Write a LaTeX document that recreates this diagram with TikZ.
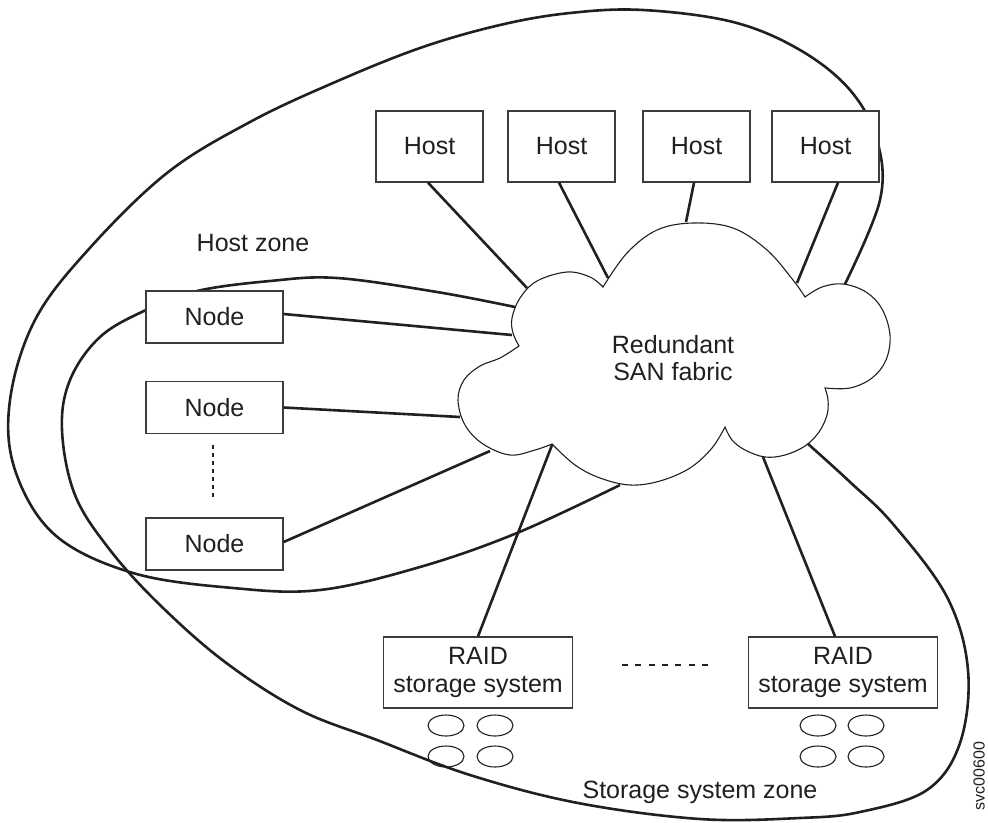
\documentclass[tikz,border=0pt]{standalone}
\usepackage{fontspec}
\setmainfont{Liberation Sans}
\usetikzlibrary{shapes.geometric}
\definecolor{ink}{HTML}{231F20}
\definecolor{edge}{HTML}{3C3C3C}
\begin{document}
\begin{tikzpicture}[x=1pt,y=-1pt,
  box/.style={draw=edge, line width=1.3pt, fill=white, inner sep=0pt,
    font=\fontsize{25}{28}\selectfont, text=ink, align=center},
  hostbox/.style={box, minimum width=107pt, minimum height=71pt},
  nodebox/.style={box, minimum width=137pt, minimum height=52pt},
  raidbox/.style={box, minimum width=189pt, minimum height=71pt},
  link/.style={draw=ink, line width=2.6pt},
  zone/.style={draw=ink, line width=2.6pt},
  cloudline/.style={draw=ink, line width=1.1pt},
  disk/.style={draw=ink, line width=1.1pt, ellipse, inner sep=0pt,
    minimum width=36pt, minimum height=21pt},
  dotline/.style={draw=ink, line width=2.6pt, dash pattern=on 6pt off 7.3pt},
  lbl/.style={font=\fontsize{25}{28}\selectfont, text=ink, inner sep=0pt}
]
\useasboundingbox (0,0) rectangle (988,822);

% Host zone
\draw[zone] plot[smooth, tension=0.6] coordinates {
  (620,485) (517,533) (420,567) (320,590) (233,588) (133,573) (55,535)
  (15,470) (10,400) (35,320) (88,250) (167,173) (250,122) (333,83)
  (420,48) (500,25) (570,13) (643,10) (733,22) (800,50) (850,90)
  (877,140) (880,200) (845,284)};

% Storage system zone
\draw[zone] plot[smooth, tension=0.6] coordinates {
  (515,307) (437,292) (337,278) (270,281) (197,291) (146,310) (100,337)
  (70,380) (62,430) (75,495) (110,550) (160,605) (225,662) (300,710)
  (377,740) (470,775) (578,803) (700,819) (800,818) (860,812) (927,790)
  (960,743) (968,670) (947,597) (893,524) (850,482) (807,443)};

% Cloud
\draw[cloudline, fill=white]
  plot[smooth, tension=0.6] coordinates {(519,346) (513,333) (512,318) (520,298) (537,281) (567,272) (590,277) (603,287)}
  -- plot[smooth, tension=0.6] coordinates {(603,287) (627,253) (657,230) (693,223) (733,228) (767,250) (793,280) (805,297)}
  -- plot[smooth, tension=0.6] coordinates {(805,297) (822,287) (843,284) (866,292) (882,309) (890,335) (886,360) (872,378) (850,388) (825,388)}
  -- plot[smooth, tension=0.6] coordinates {(825,388) (828,400) (827,415) (819,432) (805,446) (785,455) (765,457) (745,450) (732,440) (725,427)}
  -- plot[smooth, tension=0.6] coordinates {(725,427) (712,448) (690,468) (660,481) (630,485) (600,478) (575,465) (552,444)}
  -- plot[smooth, tension=0.6] coordinates {(552,444) (535,450) (510,455) (483,444) (465,425) (458,400) (464,380) (480,366) (500,358) (519,346)}
  -- cycle;
\node[lbl, align=center, font=\fontsize{25}{27}\selectfont] (fabric) at (673,358) {Redundant\\SAN fabric};

% Cloud attachment points
\coordinate (ch1) at (527,288);
\coordinate (ch2) at (608,278);
\coordinate (ch3) at (686,222);
\coordinate (ch4) at (797,283);
\coordinate (cn1) at (512,335);
\coordinate (cn2) at (460,417);
\coordinate (cn3) at (490,451);
\coordinate (cr1) at (552,445);
\coordinate (cr2) at (763,457);

% Boxes
\node[hostbox] (h1) at (429.5,146.5) {Host};
\node[hostbox] (h2) at (561.5,146.5) {Host};
\node[hostbox] (h3) at (696.5,146.5) {Host};
\node[hostbox] (h4) at (825.5,146.5) {Host};
\node[nodebox] (n1) at (214.5,317) {Node};
\node[nodebox] (n2) at (214.5,407.5) {Node};
\node[nodebox] (n3) at (214.5,544) {Node};
\node[raidbox] (r1) at (478,672.5) {RAID\\storage system};
\node[raidbox] (r2) at (843,672.5) {RAID\\storage system};

% Connectors
\draw[link] ([xshift=-1.5pt]h1.south) -- (ch1);
\draw[link] ([xshift=-2.5pt]h2.south) -- (ch2);
\draw[link] ([xshift=-2.5pt]h3.south) -- (ch3);
\draw[link] ([xshift=12.5pt]h4.south) -- (ch4);
\draw[link] ([yshift=3pt]n1.east) -- (cn1);
\draw[link] (n2.east) -- (cn2);
\draw[link] ([yshift=2pt]n3.east) -- (cn3);
\draw[link] (r1.north) -- (cr1);
\draw[link] ([xshift=-8pt]r2.north) -- (cr2);

% Ellipsis marks
\coordinate (dA) at (213,445);
\coordinate (dB) at (213,498);
\draw[dotline, dash pattern=on 4pt off 4pt] (dA) -- (dB);
\coordinate (dC) at (622,665);
\coordinate (dD) at (708,665);
\draw[dotline] (dC) -- (dD);

% Disks
\node[disk] (d11) at (446,725.5) {};
\node[disk] (d12) at (495,725.5) {};
\node[disk] (d13) at (446,756.5) {};
\node[disk] (d14) at (495,756.5) {};
\node[disk] (d21) at (818,725.5) {};
\node[disk] (d22) at (866,725.5) {};
\node[disk] (d23) at (818,756.5) {};
\node[disk] (d24) at (866,756.5) {};

% Labels
\node[lbl] (hz) at (253,243) {Host zone};
\node[lbl] (sz) at (700,792) {Storage system zone};
\node[lbl, font=\fontsize{16}{18}\selectfont, rotate=90] (code) at (979,776) {svc00600};
\end{tikzpicture}
\end{document}
